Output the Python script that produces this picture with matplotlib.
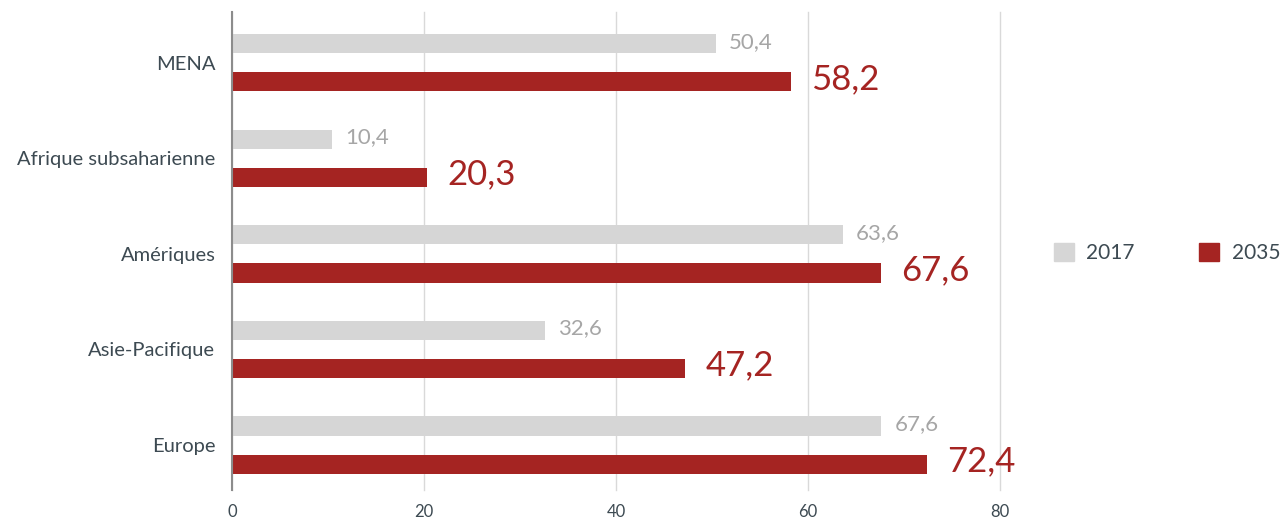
import matplotlib.pyplot as plt
from matplotlib.patches import Patch
import numpy as np

regions = ["MENA", "Afrique subsaharienne", "Amériques", "Asie-Pacifique", "Europe"]
values_2017 = [50.4, 10.4, 63.6, 32.6, 67.6]
values_2035 = [58.2, 20.3, 67.6, 47.2, 72.4]
series_names = ["2017", "2035"]
x_ticks = [0, 20, 40, 60, 80]

grey = "#d6d6d6"
red = "#a52422"
text_col = "#3d4a52"


def fmt(v):
    return f"{v:.1f}".replace(".", ",")


if __name__ == "__main__":
    plt.rcParams["font.family"] = ["Lato", "DejaVu Sans"]

    fig = plt.figure(figsize=(12.86, 5.18), dpi=100)
    ax = fig.add_axes([232 / 1286, 28 / 518, (1000 - 232) / 1286, (490 - 12) / 518])

    y = np.arange(len(regions))
    h = 0.2
    off = 0.2
    ax.barh(y - off, values_2017, height=h, color=grey, zorder=2)
    ax.barh(y + off, values_2035, height=h, color=red, zorder=2)

    for yi, v in zip(y, values_2017):
        ax.text(v + 1.4, yi - off - 0.02, fmt(v), color="#a6a6a6", fontsize=16,
                va="center", ha="left")
    for yi, v in zip(y, values_2035):
        ax.text(v + 2.1, yi + off - 0.03, fmt(v), color=red, fontsize=25,
                va="center", ha="left")

    ax.set_xlim(0, 80)
    ax.set_ylim(len(regions) - 0.53, -0.53)
    ax.set_xticks(x_ticks)
    ax.set_yticks(y)
    ax.set_yticklabels(regions, fontsize=14.5, color=text_col)
    ax.tick_params(axis="x", length=0, labelsize=12, labelcolor=text_col, pad=10)
    ax.tick_params(axis="y", length=0, pad=12)
    ax.grid(axis="x", color="#d9d9d9", linewidth=1, zorder=0)
    for gl in ax.get_xgridlines():
        gl.set_clip_on(False)
    for s in ["top", "right", "bottom"]:
        ax.spines[s].set_visible(False)
    ax.spines["left"].set_color("#8c8c8c")
    ax.spines["left"].set_linewidth(1.5)
    ax.spines["left"].set_zorder(3)

    handles = [Patch(color=grey), Patch(color=red)]
    fig.legend(handles, series_names, ncol=2, loc="center left",
               bbox_to_anchor=(1054 / 1286, 1 - 253 / 518), frameon=False,
               fontsize=15, labelcolor=text_col, handlelength=0.95, handleheight=0.95,
               handletextpad=0.6, columnspacing=3.1, borderpad=0, borderaxespad=0)

    fig.savefig("out.png", dpi=100)
